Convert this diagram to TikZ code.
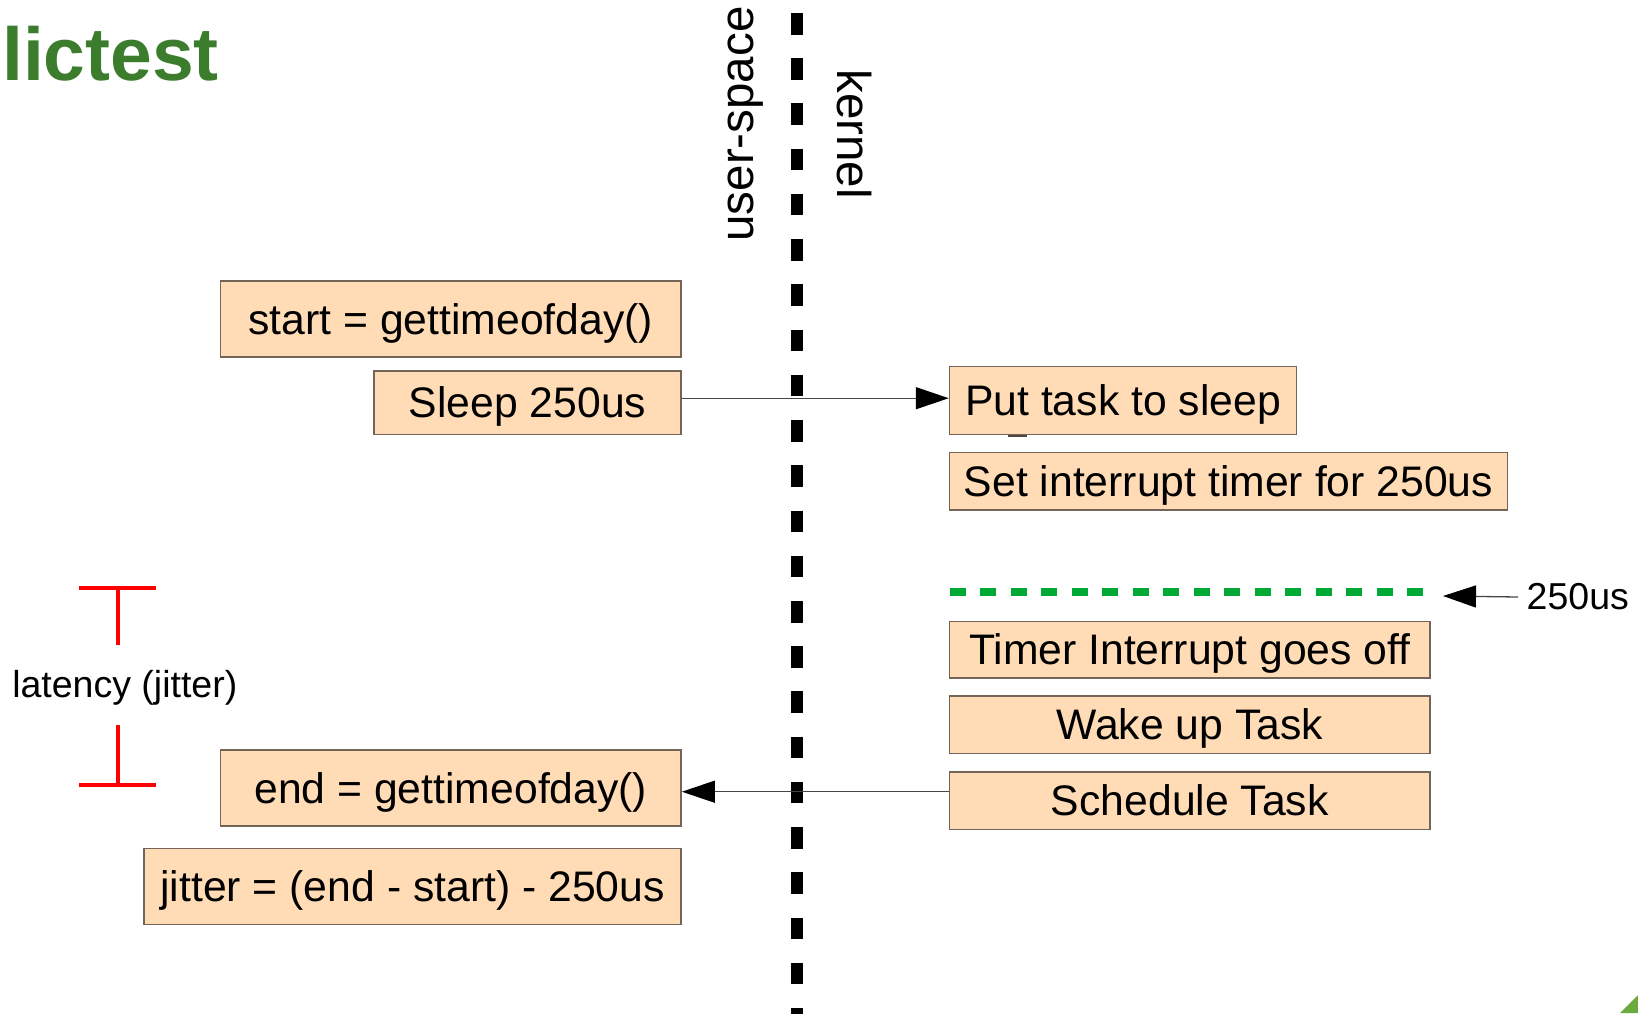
\documentclass[tikz,border=0pt]{standalone}
\usepackage{fontspec}
\setmainfont{Liberation Sans}
\usetikzlibrary{arrows.meta}
\definecolor{boxfill}{RGB}{255,219,182}
\definecolor{boxline}{RGB}{115,100,88}
\definecolor{connline}{RGB}{70,70,70}
\definecolor{titlegreen}{RGB}{59,125,45}
\definecolor{markgreen}{RGB}{0,169,51}
\definecolor{cornergreen}{RGB}{108,170,60}
\begin{document}
\begin{tikzpicture}[x=1pt,y=-1pt,
  box/.style={draw=boxline, fill=boxfill, line width=1.5pt, inner sep=0pt,
    font=\fontsize{42.7}{51}\selectfont, text height=35pt, text depth=5pt},
  conn/.style={draw=connline, line width=1.3pt,
    -{Triangle[length=33pt,width=22pt,color=black]}},
  sidelabel/.style={inner sep=0pt, font=\fontsize{47.5}{57}\selectfont},
  smalllabel/.style={inner sep=0pt, font=\fontsize{37.5}{45}\selectfont},
  jittermark/.style={draw=red, line width=4pt},
]
\useasboundingbox (0,0) rectangle (1638,1013);

% title
\node[anchor=base west, inner sep=0pt, text=titlegreen,
  font=\fontsize{75}{90}\selectfont\bfseries] (title) at (2,80) {lictest};

% user-space / kernel boundary
\draw[line width=12pt, dash pattern=on 21.5pt off 23.73pt] (797,13) -- (797,1030);
\node[sidelabel, rotate=90] (user) at (745.5,124) {user-space};
\node[sidelabel, rotate=-90] (kern) at (854,134) {kernel};

% user-space steps
\node[box, minimum width=460.7pt, minimum height=76pt] (start) at (450.8,319) {start = gettimeofday()};
\node[box, minimum width=307pt, minimum height=63.6pt] (sleep) at (527.6,402.8) {Sleep 250us};
\node[box, minimum width=460.7pt, minimum height=76pt] (end) at (450.8,788) {end = gettimeofday()};
\node[box, minimum width=537pt, minimum height=76pt] (jitter) at (412.6,886.4) {jitter = (end - start) - 250us};

% kernel steps
\fill[boxline!70!black] (1008,432) rectangle (1027,436.5);
\node[box, minimum width=347pt, minimum height=68pt] (put) at (1123,400.7) {Put task to sleep};
\node[box, minimum width=558pt, minimum height=57.5pt] (settimer) at (1228.5,481) {Set interrupt timer for 250us};
\node[box, minimum width=480.5pt, minimum height=56.5pt] (timer) at (1189.8,649.8) {Timer Interrupt goes off};
\node[box, minimum width=480.5pt, minimum height=57.5pt] (wake) at (1189.8,724.5) {Wake up Task};
\node[box, minimum width=480.5pt, minimum height=57.4pt] (sched) at (1189.8,800.7) {Schedule Task};

% calls across the boundary
\path (put.west) ++(0,-2.5) coordinate (putin);
\draw[conn] (sleep.east |- putin) -- (putin);
\path (sched.west) ++(0,-9) coordinate (schedout);
\draw[conn] (schedout) -- (end.east |- schedout);

% 250us deadline
\coordinate (dl0) at (949.5,592);
\coordinate (dl1) at (1424,592);
\draw[markgreen, line width=7.7pt, dash pattern=on 16pt off 14.5pt] (dl0) -- (dl1);
\node[smalllabel, anchor=west, inner xsep=8.5pt] (dlabel) at (1518,597) {250us};
\coordinate (dtip) at (1443,596);
\draw[conn] (dlabel.west) -- (dtip);

% latency (jitter) span
\node[smalllabel] (lat) at (124.8,688) {latency (jitter)};
\draw[jittermark] (79,588) -- (156,588);
\draw[jittermark] (117.5,588) -- (117.5,645);
\draw[jittermark] (117.5,725) -- (117.5,785);
\draw[jittermark] (79,785) -- (156,785);

% corner decoration
\fill[cornergreen] (1620,1013) -- (1638,995) -- (1638,1013) -- cycle;
\end{tikzpicture}
\end{document}
